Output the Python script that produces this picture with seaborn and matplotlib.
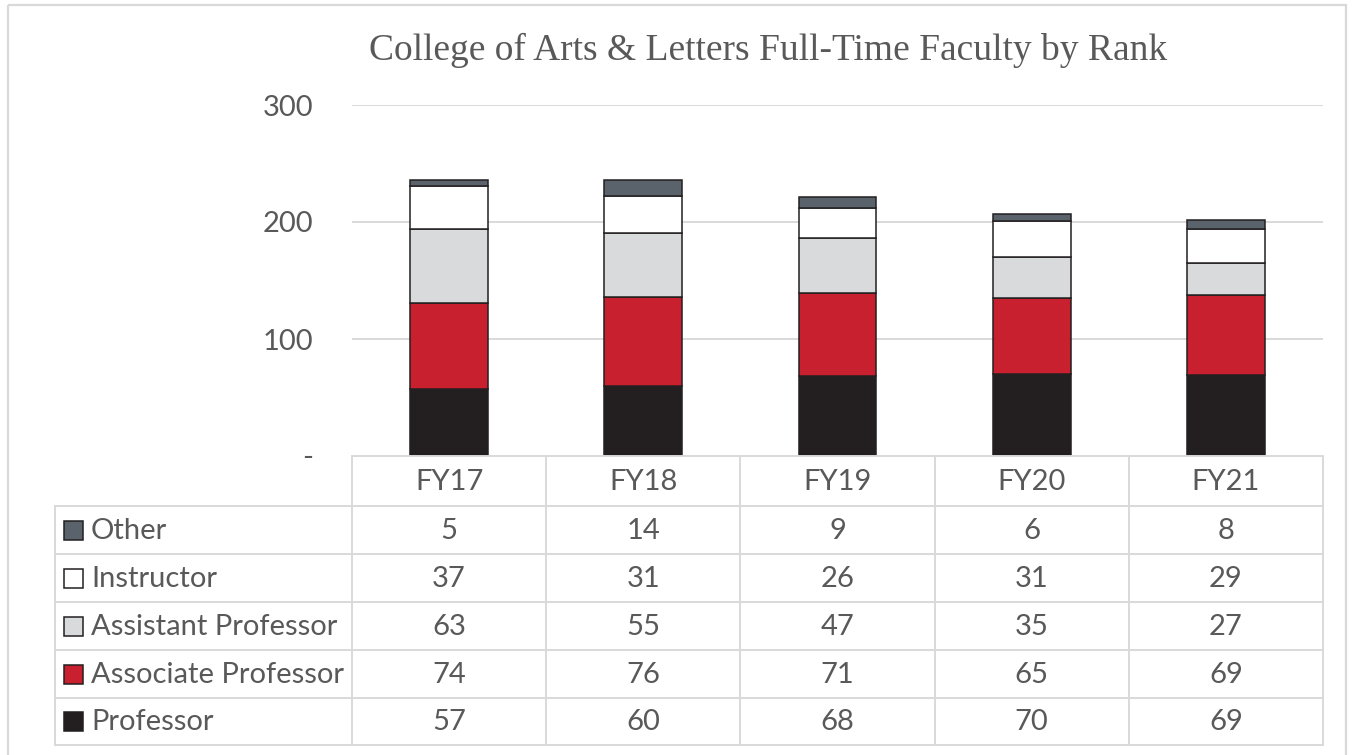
import matplotlib
matplotlib.use("Agg")
import matplotlib.pyplot as plt
import seaborn as sns
import numpy as np
from matplotlib.patches import Rectangle

years = ["FY17", "FY18", "FY19", "FY20", "FY21"]
professor = [57, 60, 68, 70, 69]
associate = [74, 76, 71, 65, 69]
assistant = [63, 55, 47, 35, 27]
instructor = [37, 31, 26, 31, 29]
other = [5, 14, 9, 6, 8]

series_names = ["Professor", "Associate Professor", "Assistant Professor", "Instructor", "Other"]
series_vals = [professor, associate, assistant, instructor, other]
series_colors = ["#231F20", "#C8202F", "#D9DADB", "#FFFFFF", "#5A626C"]
yticks = [0, 100, 200, 300]
ytick_labels = ["-", "100", "200", "300"]
title = "College of Arts & Letters Full-Time Faculty by Rank"

sns.set_theme(style="white")
plt.rcParams["font.family"] = ["Lato", "DejaVu Sans"]

W, H = 1355, 755
fig = plt.figure(figsize=(W / 100, H / 100), dpi=100)
TXT = "#595959"
GRID = "#D9D9D9"

# main plot axes
x0, x1, ytop, ybot = 352, 1323, 105, 456
ax = fig.add_axes([x0 / W, 1 - ybot / H, (x1 - x0) / W, (ybot - ytop) / H])
bottom = np.zeros(len(years))
for name, vals, col in zip(series_names, series_vals, series_colors):
    sns.barplot(x=years, y=vals, bottom=bottom, color=col, edgecolor="#231F20",
                linewidth=1.1, width=0.4, ax=ax, saturation=1, zorder=3)
    bottom = bottom + np.array(vals)
ax.set_xlim(-0.5, len(years) - 0.5)
ax.set_ylim(0, 300)
ax.set_yticks(yticks)
ax.set_yticklabels(ytick_labels, fontsize=21, color=TXT)
ax.tick_params(axis="y", length=0, pad=28)
ax.set_xticks([])
ax.set_xlabel("")
ax.set_ylabel("")
for y in yticks[1:]:
    ax.axhline(y, color=GRID, lw=1.4, zorder=0)
for s in ax.spines.values():
    s.set_visible(False)

# overlay axes for table and frame
ov = fig.add_axes([0, 0, 1, 1], facecolor="none")
ov.set_xlim(0, W)
ov.set_ylim(H, 0)
ov.axis("off")
ov.add_patch(Rectangle((8, 5), 1338, 760, fill=False, edgecolor=GRID, lw=1.6))

cols = [352, 546.2, 740.4, 934.6, 1128.8, 1323]
rows = [456, 506, 554, 602, 650, 698, 745]
lab_x0 = 55
lc = "#D9D9D9"
ov.plot([cols[0], cols[-1]], [rows[0], rows[0]], color=lc, lw=1.4)
for yy in rows[1:]:
    ov.plot([lab_x0, cols[-1]], [yy, yy], color=lc, lw=1.4)
for xx in cols:
    ov.plot([xx, xx], [rows[0], rows[-1]], color=lc, lw=1.4)
ov.plot([lab_x0, lab_x0], [rows[1], rows[-1]], color=lc, lw=1.4)

fs = 21
for i, yr in enumerate(years):
    cx = (cols[i] + cols[i + 1]) / 2
    ov.text(cx, (rows[0] + rows[1]) / 2 + 1, yr, ha="center", va="center", fontsize=fs, color=TXT)

table_order = list(range(len(series_names)))[::-1]
for r, si in enumerate(table_order):
    cy = (rows[r + 1] + rows[r + 2]) / 2
    ov.add_patch(Rectangle((64, cy - 9.5), 19, 19, facecolor=series_colors[si],
                           edgecolor="#231F20", lw=1.1))
    ov.text(91, cy + 1, series_names[si], ha="left", va="center", fontsize=fs, color=TXT)
    for i, v in enumerate(series_vals[si]):
        cx = (cols[i] + cols[i + 1]) / 2
        ov.text(cx, cy + 1, str(v), ha="center", va="center", fontsize=fs, color=TXT)

ov.text((372 + 1165) / 2, 50, title, ha="center", va="center", fontsize=27,
        color=TXT, family=["Liberation Serif", "DejaVu Serif"])

fig.savefig("out.png", dpi=100)
